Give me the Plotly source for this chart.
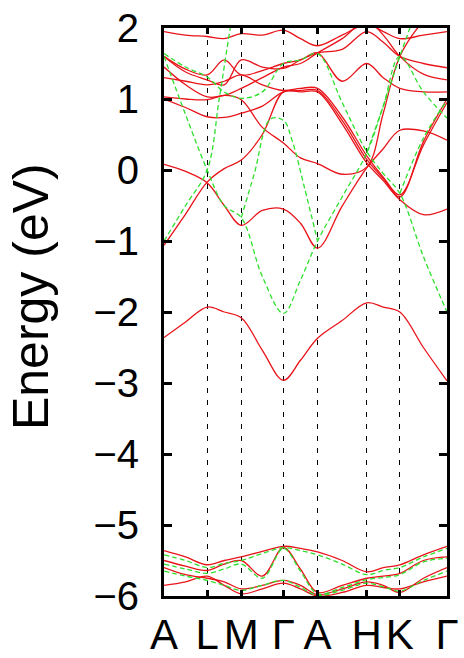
import plotly.graph_objects as go

# k-path (arbitrary units proportional to path length)
k_grid = [0, 21.5, 43, 60, 77, 98, 119, 136, 153, 177.5, 202, 218.5, 235, 258.5, 282]
sym_k = [0, 43, 77, 119, 153, 202, 235, 282]
sym_labels = ["A", "L", "M", "Γ", "A", "H", "K", "Γ"]

# ---- red (solid) bands, energies in eV on k_grid ----
red_low = [-2.36, -2.14, -1.93, -2.0, -2.08, -2.54, -2.96, -2.68, -2.37, -2.12, -1.87, -1.93, -2.0, -2.5, -2.97]
red_a = [-1.06, -0.62, -0.17, 0.02, 0.14, 0.5, 1.1, 1.1, 1.1, 0.65, 0.1, -0.15, -0.42, -0.63, -0.55]
red_b = [0.08, -0.02, -0.18, -0.5, -0.78, -0.57, -0.55, -0.75, -1.1, -0.51, 0.03, 0.3, 0.56, 0.55, 0.42]
red_c = [1.03, 1.0, 0.99, 1.05, 0.99, 0.6, 0.38, 0.17, 0.09, -0.06, 0.04, 0.8, 1.6, 2.1, 2.4]
red_d = [1.0, 0.88, 0.75, 0.74, 0.8, 0.9, 1.1, 1.12, 1.12, 0.7, 0.15, -0.12, -0.38, 0.4, 1.0]
red_e = [1.3, 1.25, 1.2, 1.25, 1.34, 1.2, 1.12, 1.15, 1.15, 0.75, 0.2, -0.1, -0.35, 0.35, 0.95]
red_f = [1.6, 1.42, 1.34, 1.55, 1.34, 1.4, 1.5, 1.55, 1.65, 1.25, 1.5, 1.3, 1.15, 1.1, 1.1]
red_g = [1.6, 1.38, 1.27, 1.2, 1.55, 1.45, 1.43, 1.55, 1.65, 1.7, 1.95, 1.8, 1.6, 1.5, 1.44]
red_h = [1.45, 1.2, 1.03, 1.05, 1.15, 1.3, 1.45, 1.5, 1.65, 1.85, 2.1, 1.9, 1.6, 1.35, 1.27]
red_i = [1.95, 1.9, 1.88, 1.85, 1.92, 1.9, 1.97, 1.85, 1.75, 1.9, 2.05, 1.95, 1.85, 1.9, 1.95]
red_v1 = [-5.36, -5.45, -5.56, -5.5, -5.45, -5.37, -5.3, -5.33, -5.38, -5.5, -5.66, -5.6, -5.56, -5.42, -5.3]
red_v2 = [-5.5, -5.58, -5.64, -5.55, -5.5, -5.72, -5.32, -5.62, -5.95, -5.85, -5.75, -5.72, -5.68, -5.5, -5.45]
red_v3 = [-5.6, -5.7, -5.75, -5.8, -5.9, -5.85, -5.78, -5.85, -5.98, -5.9, -5.8, -5.85, -5.95, -5.75, -5.6]
red_v4 = [-5.85, -5.8, -5.72, -5.85, -5.97, -5.9, -5.82, -5.9, -6.0, -5.95, -5.85, -5.88, -5.9, -5.8, -5.72]

# ---- green (dashed) bands ----
green_a = [1.6, 0.78, 0.0, -0.5, -0.67, -1.5, -2.02, -1.55, -1.0, -0.38, 0.24, 0.9, 1.6, 1.1, 0.73]
green_b = [1.64, 1.45, 1.31, 1.1, 1.01, 1.1, 1.5, 1.55, 1.64, 0.95, 0.26, -0.05, -0.33, -1.22, -2.0]
green_v1 = [-5.42, -5.5, -5.6, -5.54, -5.5, -5.4, -5.32, -5.36, -5.42, -5.55, -5.7, -5.64, -5.6, -5.45, -5.33]
green_v2 = [-5.55, -5.62, -5.68, -5.62, -5.55, -5.75, -5.33, -5.65, -5.97, -5.88, -5.77, -5.74, -5.7, -5.52, -5.47]
green_v3 = [-5.65, -5.72, -5.78, -5.85, -5.92, -5.85, -5.78, -5.88, -5.99, -5.92, -5.82, -5.87, -5.93, -5.78, -5.65]
# partial-path green branches
green_c_k = [0, 21.5, 43, 55, 66, 72]
green_c_e = [-1.0, -0.5, 0.0, 1.0, 2.0, 2.5]
green_d_k = [77, 90, 106, 119, 128, 140, 153]
green_d_e = [-0.67, -0.05, 0.72, 0.7, 0.4, -0.25, -1.0]
green_e_k = [235, 258.5, 282]
green_e_e = [-0.33, 0.45, 0.98]
green_f_k = [202, 218.5, 235, 245, 256]
green_f_e = [0.24, 0.9, 1.6, 2.0, 2.45]

RED = "#e8141a"
GREEN = "#2ee02e"

fig = go.Figure()

red_sets = [red_low, red_a, red_b, red_c, red_d, red_e, red_f, red_g, red_h, red_i,
            red_v1, red_v2, red_v3, red_v4]
for band in red_sets:
    fig.add_trace(go.Scatter(x=k_grid, y=band, mode="lines",
                             line=dict(color=RED, width=1.3, shape="spline", smoothing=1.0),
                             showlegend=False, hoverinfo="skip"))

green_sets = [(k_grid, green_a), (k_grid, green_b), (k_grid, green_v1), (k_grid, green_v2),
              (k_grid, green_v3), (green_c_k, green_c_e), (green_d_k, green_d_e),
              (green_e_k, green_e_e), (green_f_k, green_f_e)]
for kk, band in green_sets:
    fig.add_trace(go.Scatter(x=kk, y=band, mode="lines",
                             line=dict(color=GREEN, width=1.3, shape="spline", smoothing=1.0,
                                       dash="5px,3px"),
                             showlegend=False, hoverinfo="skip"))

FONT = "Liberation Sans, Arial, sans-serif"

fig.update_layout(
    width=464, height=658,
    margin=dict(l=164, r=17, t=28, b=62),
    paper_bgcolor="white", plot_bgcolor="white",
    font=dict(family=FONT, color="black"),
    xaxis=dict(
        range=[0, 282], tickmode="array", tickvals=sym_k, ticktext=sym_labels,
        ticks="inside", ticklen=6, tickwidth=2.5, tickcolor="black",
        showline=True, linewidth=3, linecolor="black", mirror="ticks",
        showgrid=True, gridcolor="black", gridwidth=1.2, griddash="5px,7px",
        zeroline=False, tickfont=dict(size=42, family=FONT), automargin=False,
        tickangle=0, ticklabelstandoff=0,
    ),
    yaxis=dict(
        range=[-6, 2], tickmode="linear", tick0=-6, dtick=1,
        ticks="inside", ticklen=8, tickwidth=2.5, tickcolor="black",
        showline=True, linewidth=3, linecolor="black", mirror="ticks",
        showgrid=False, zeroline=False, tickfont=dict(size=40, family=FONT),
        ticklabelstandoff=14, automargin=False,
    ),
    annotations=[dict(
        text="Energy (eV)", xref="paper", yref="paper",
        x=-0.47, y=0.528, xanchor="center", yanchor="middle",
        textangle=-90, showarrow=False, font=dict(size=50, family=FONT, color="black"),
    )],
)

fig.write_html("out.html")
